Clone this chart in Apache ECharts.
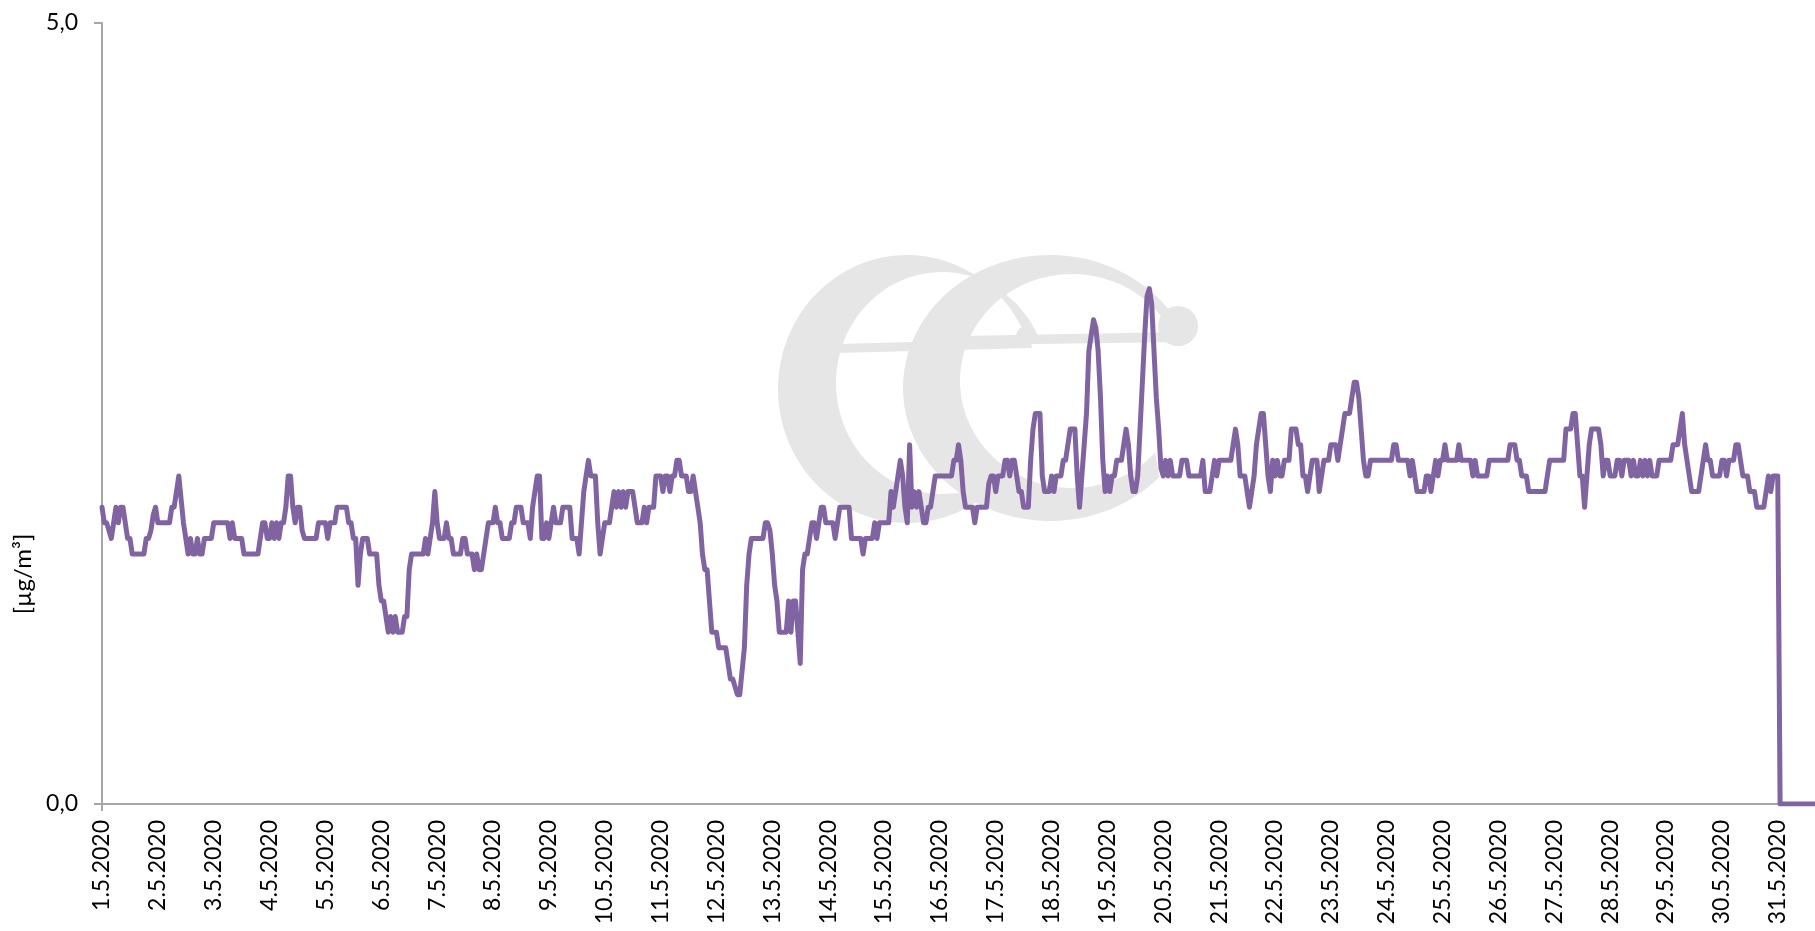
<!DOCTYPE html>
<html>
<head>
<meta charset="utf-8">
<script src="https://cdn.jsdelivr.net/npm/echarts@6/dist/echarts.min.js"></script>
<style>
html,body{margin:0;padding:0;background:#fff;}
#chart{width:1815px;height:931px;}
</style>
</head>
<body>
<div id="chart"></div>
<script>
// Day tick labels
const dayLabels = ['1.5.2020','2.5.2020','3.5.2020','4.5.2020','5.5.2020','6.5.2020','7.5.2020','8.5.2020','9.5.2020','10.5.2020',
'11.5.2020','12.5.2020','13.5.2020','14.5.2020','15.5.2020','16.5.2020','17.5.2020','18.5.2020','19.5.2020','20.5.2020',
'21.5.2020','22.5.2020','23.5.2020','24.5.2020','25.5.2020','26.5.2020','27.5.2020','28.5.2020','29.5.2020','30.5.2020','31.5.2020'];

const yTicks = [0, 5];
const yUnit = '[µg/m³]';

// Hourly values (µg/m³)
const seg1 = [1.9,1.8,1.8,1.75,1.7,1.8,1.9,1.8,1.9,1.9,1.8,1.7,1.7,1.6,1.6,1.6,1.6,1.6,1.6,1.7,1.7,1.75,1.85,1.9,
1.8,1.8,1.8,1.8,1.8,1.8,1.9,1.9,2.0,2.1,1.95,1.8,1.7,1.6,1.7,1.6,1.6,1.7,1.6,1.6,1.7,1.7,1.7,1.7,
1.8,1.8,1.8,1.8,1.8,1.8,1.8,1.7,1.8,1.7,1.7,1.7,1.7,1.6,1.6,1.6,1.6,1.6,1.6,1.6,1.7,1.8,1.8,1.7];
const seg2 = [1.7,1.8,1.7,1.8,1.7,1.8,1.8,1.9,2.1,2.1,1.9,1.8,1.9,1.9,1.75,1.7,1.7,1.7,1.7,1.7,1.7,1.8,1.8,1.8,
1.8,1.7,1.8,1.8,1.8,1.9,1.9,1.9,1.9,1.9,1.8,1.8,1.7,1.7,1.4,1.6,1.7,1.7,1.7,1.6,1.6,1.6,1.6,1.4,
1.3,1.3,1.2,1.1,1.2,1.1,1.2,1.1,1.1,1.1,1.2,1.2,1.5,1.6,1.6,1.6,1.6,1.6,1.6,1.7,1.6,1.7,1.8,2.0,1.8,1.7];
const seg3 = [1.7,1.7,1.8,1.7,1.7,1.6,1.6,1.6,1.6,1.7,1.7,1.6,1.6,1.6,1.5,1.6,1.5,1.5,1.6,1.7,1.8,1.8,
1.8,1.9,1.8,1.8,1.7,1.7,1.7,1.7,1.8,1.8,1.9,1.9,1.9,1.8,1.8,1.8,1.7,1.9,2.0,2.1,2.1,1.7,1.7,1.8,
1.7,1.8,1.9,1.8,1.8,1.8,1.9,1.9,1.9,1.9,1.7,1.7,1.7,1.6,1.8,2.0,2.1,2.2,2.1,2.1,2.1,1.8,1.6,1.7,1.8,1.8];
const seg4 = [1.8,1.9,2.0,1.9,2.0,1.9,2.0,1.9,2.0,2.0,2.0,1.9,1.8,1.8,1.8,1.9,1.8,1.9,1.9,1.9,2.1,2.1,
2.1,2.0,2.1,2.1,2.0,2.1,2.1,2.2,2.2,2.1,2.1,2.1,2.0,2.0,2.1,2.0,1.9,1.8,1.6,1.5,1.5,1.3,1.1,1.1,
1.1,1.0,1.0,1.0,1.0,0.9,0.8,0.8,0.75,0.7,0.7,0.85,1.0,1.4,1.6,1.7,1.7,1.7,1.7,1.7,1.7,1.8,1.8,1.75,1.6,1.4];
const seg5 = [1.3,1.1,1.1,1.1,1.1,1.3,1.1,1.3,1.3,1.1,0.9,1.5,1.6,1.6,1.7,1.8,1.8,1.7,1.8,1.9,1.9,1.8,
1.8,1.8,1.8,1.7,1.8,1.9,1.9,1.9,1.9,1.9,1.7,1.7,1.7,1.7,1.7,1.6,1.7,1.7,1.7,1.7,1.8,1.7,1.8,1.8,
1.8,1.8,1.8,2.0,1.9,2.0,2.1,2.2,2.1,1.9,1.8,2.3,1.9,2.0,1.9,2.0,1.9,1.8,1.8,1.9,1.9,2.0,2.1,2.1,2.1,2.1];
const seg6 = [2.1,2.1,2.1,2.1,2.2,2.2,2.3,2.2,2.0,1.9,1.9,1.9,1.9,1.8,1.9,1.9,1.9,1.9,1.9,2.05,2.1,2.1,
2.0,2.1,2.1,2.1,2.2,2.2,2.1,2.2,2.2,2.1,2.0,2.0,1.9,1.9,1.9,2.2,2.4,2.5,2.5,2.5,2.1,2.0,2.0,2.0,
2.1,2.0,2.1,2.1,2.1,2.2,2.2,2.3,2.4,2.4,2.4,2.1,1.9,2.1,2.3,2.5,2.9,3.0,3.1,3.05,2.9,2.6,2.2,2.0,2.1,2.0,2.1,2.1,2.2];
const seg7 = [2.2,2.2,2.3,2.4,2.3,2.1,2.0,2.0,2.1,2.4,2.7,3.0,3.25,3.3,3.2,2.9,2.6,2.4,2.15,
2.1,2.2,2.1,2.2,2.1,2.1,2.1,2.1,2.2,2.2,2.2,2.1,2.1,2.1,2.1,2.1,2.1,2.2,2.0,2.0,2.0,2.1,2.2,2.1,
2.2,2.2,2.2,2.2,2.2,2.2,2.3,2.4,2.3,2.1,2.1,2.1,2.0,1.9,2.0,2.1,2.3,2.4,2.5,2.5,2.3,2.1,2.0,2.2,2.1,2.2,2.1,2.1,2.2,2.2];
const seg8 = [2.2,2.4,2.4,2.4,2.3,2.3,2.1,2.1,2.0,2.1,2.2,2.2,2.2,2.0,2.1,2.2,2.2,2.2,
2.3,2.3,2.3,2.2,2.3,2.4,2.5,2.5,2.5,2.6,2.7,2.7,2.6,2.4,2.2,2.1,2.1,2.2,2.2,2.2,2.2,2.2,2.2,2.2,
2.2,2.2,2.2,2.3,2.3,2.2,2.2,2.2,2.2,2.2,2.1,2.2,2.1,2.0,2.0,2.0,2.0,2.1,2.1,2.0,2.1,2.2,2.1,2.2,2.2,2.3,2.2,2.2,2.2,2.2,2.2,2.3];
const seg9 = [2.2,2.2,2.2,2.2,2.2,2.1,2.2,2.1,2.1,2.1,2.1,2.1,2.2,2.2,2.2,2.2,
2.2,2.2,2.2,2.2,2.2,2.3,2.3,2.3,2.2,2.2,2.1,2.1,2.1,2.0,2.0,2.0,2.0,2.0,2.0,2.0,2.0,2.1,2.2,2.2,
2.2,2.2,2.2,2.2,2.2,2.4,2.4,2.4,2.5,2.5,2.3,2.1,2.1,1.9,2.1,2.3,2.4,2.4,2.4,2.4,2.3,2.1,2.2,2.2,2.1,2.1,2.1,2.2,2.2,2.1,2.2];
const seg10 = [2.2,2.2,2.1,2.2,2.1,2.1,2.2,2.1,2.2,2.1,2.2,2.1,2.1,2.1,2.2,2.2,2.2,
2.2,2.2,2.2,2.3,2.3,2.3,2.4,2.5,2.3,2.2,2.1,2.0,2.0,2.0,2.0,2.1,2.2,2.3,2.2,2.2,2.1,2.1,2.1,2.1,
2.2,2.2,2.1,2.2,2.2,2.2,2.3,2.3,2.2,2.1,2.1,2.1,2.0,2.0,2.0,1.9,1.9,1.9,1.9,2.0,2.1,2.0,2.1,2.1,2.1,
0,0,0,0,0,0,0,0,0,0,0,0,0,0,0,0];

const values = [].concat(seg1, seg2, seg3, seg4, seg5, seg6, seg7, seg8, seg9, seg10);
const categories = values.map((v, i) => dayLabels[Math.floor(i / 24)] + ' ' + (i % 24) + ':00');

// Watermark logo ("ee"), decorative
function eShape(o, inn, a0, a1) {
  const pts = [];
  const n = 90;
  for (let k = 0; k <= n; k++) {
    const t = (a0 + (a1 - a0) * k / n) * Math.PI / 180;
    pts.push([o.cx + o.rx * Math.cos(t), o.cy - o.ry * Math.sin(t)]);
  }
  for (let k = n; k >= 0; k--) {
    const t = (a0 + (a1 - a0) * k / n) * Math.PI / 180;
    pts.push([inn.cx + inn.rx * Math.cos(t), inn.cy - inn.ry * Math.sin(t)]);
  }
  return pts;
}
const logoColor = '#e6e6e6';
const logo = [
  {type:'polygon', z:0, shape:{points: eShape({cx:907,cy:389,rx:129,ry:134},{cx:942,cy:383,rx:106,ry:111}, 22, 312)}, style:{fill:logoColor}},
  {type:'polygon', z:0, shape:{points:[[836,344],[1030,339],[1032,348],[836,353]]}, style:{fill:logoColor}},
  {type:'circle', z:0, shape:{cx:1026,cy:336,r:10}, style:{fill:logoColor}},
  {type:'polygon', z:0, shape:{points: eShape({cx:1050,cy:388,rx:147,ry:133},{cx:1072,cy:381,rx:112,ry:107}, 20, 318)}, style:{fill:logoColor}},
  {type:'polygon', z:0, shape:{points:[[960,336],[1180,332],[1182,342],[960,345]]}, style:{fill:logoColor}},
  {type:'circle', z:0, shape:{cx:1178,cy:326,r:20}, style:{fill:logoColor}},
  {type:'text', z:5, x:23, y:574, rotation:Math.PI/2,
   style:{text:yUnit, fontSize:24, fontFamily:'Lato', fill:'#000', align:'center', verticalAlign:'middle'}}
];

const chart = echarts.init(document.getElementById('chart'));
chart.setOption({
  animation: false,
  backgroundColor: '#fff',
  textStyle: {fontFamily: 'Lato'},
  grid: {left: 102, right: 0, top: 23, bottom: 127, containLabel: false},
  graphic: logo,
  xAxis: {
    type: 'category',
    data: categories,
    boundaryGap: false,
    axisLine: {show: true, lineStyle: {color: '#a6a6a6', width: 2}},
    axisTick: {show: true, interval: (i) => i === 0, length: 7, lineStyle: {color: '#a6a6a6', width: 2}},
    splitLine: {show: false},
    axisLabel: {
      interval: 23,
      rotate: 90,
      margin: 16,
      fontSize: 23,
      color: '#000',
      fontFamily: 'Lato',
      formatter: v => v.split(' ')[0]
    }
  },
  yAxis: {
    type: 'value',
    min: yTicks[0],
    max: yTicks[1],
    interval: 5,
    axisLine: {show: true, lineStyle: {color: '#a6a6a6', width: 2}},
    axisTick: {show: true, length: 8, lineStyle: {color: '#a6a6a6', width: 2}},
    splitLine: {show: false},
    axisLabel: {
      fontSize: 23,
      color: '#000',
      margin: 24,
      fontFamily: 'Lato',
      formatter: v => v.toFixed(1).replace('.', ',')
    }
  },
  series: [{
    type: 'line',
    data: values,
    showSymbol: false,
    symbol: 'none',
    lineStyle: {color: '#8064A2', width: 5, join: 'round', cap: 'round'},
    itemStyle: {color: '#8064A2'},
    z: 3
  }]
});
</script>
</body>
</html>
